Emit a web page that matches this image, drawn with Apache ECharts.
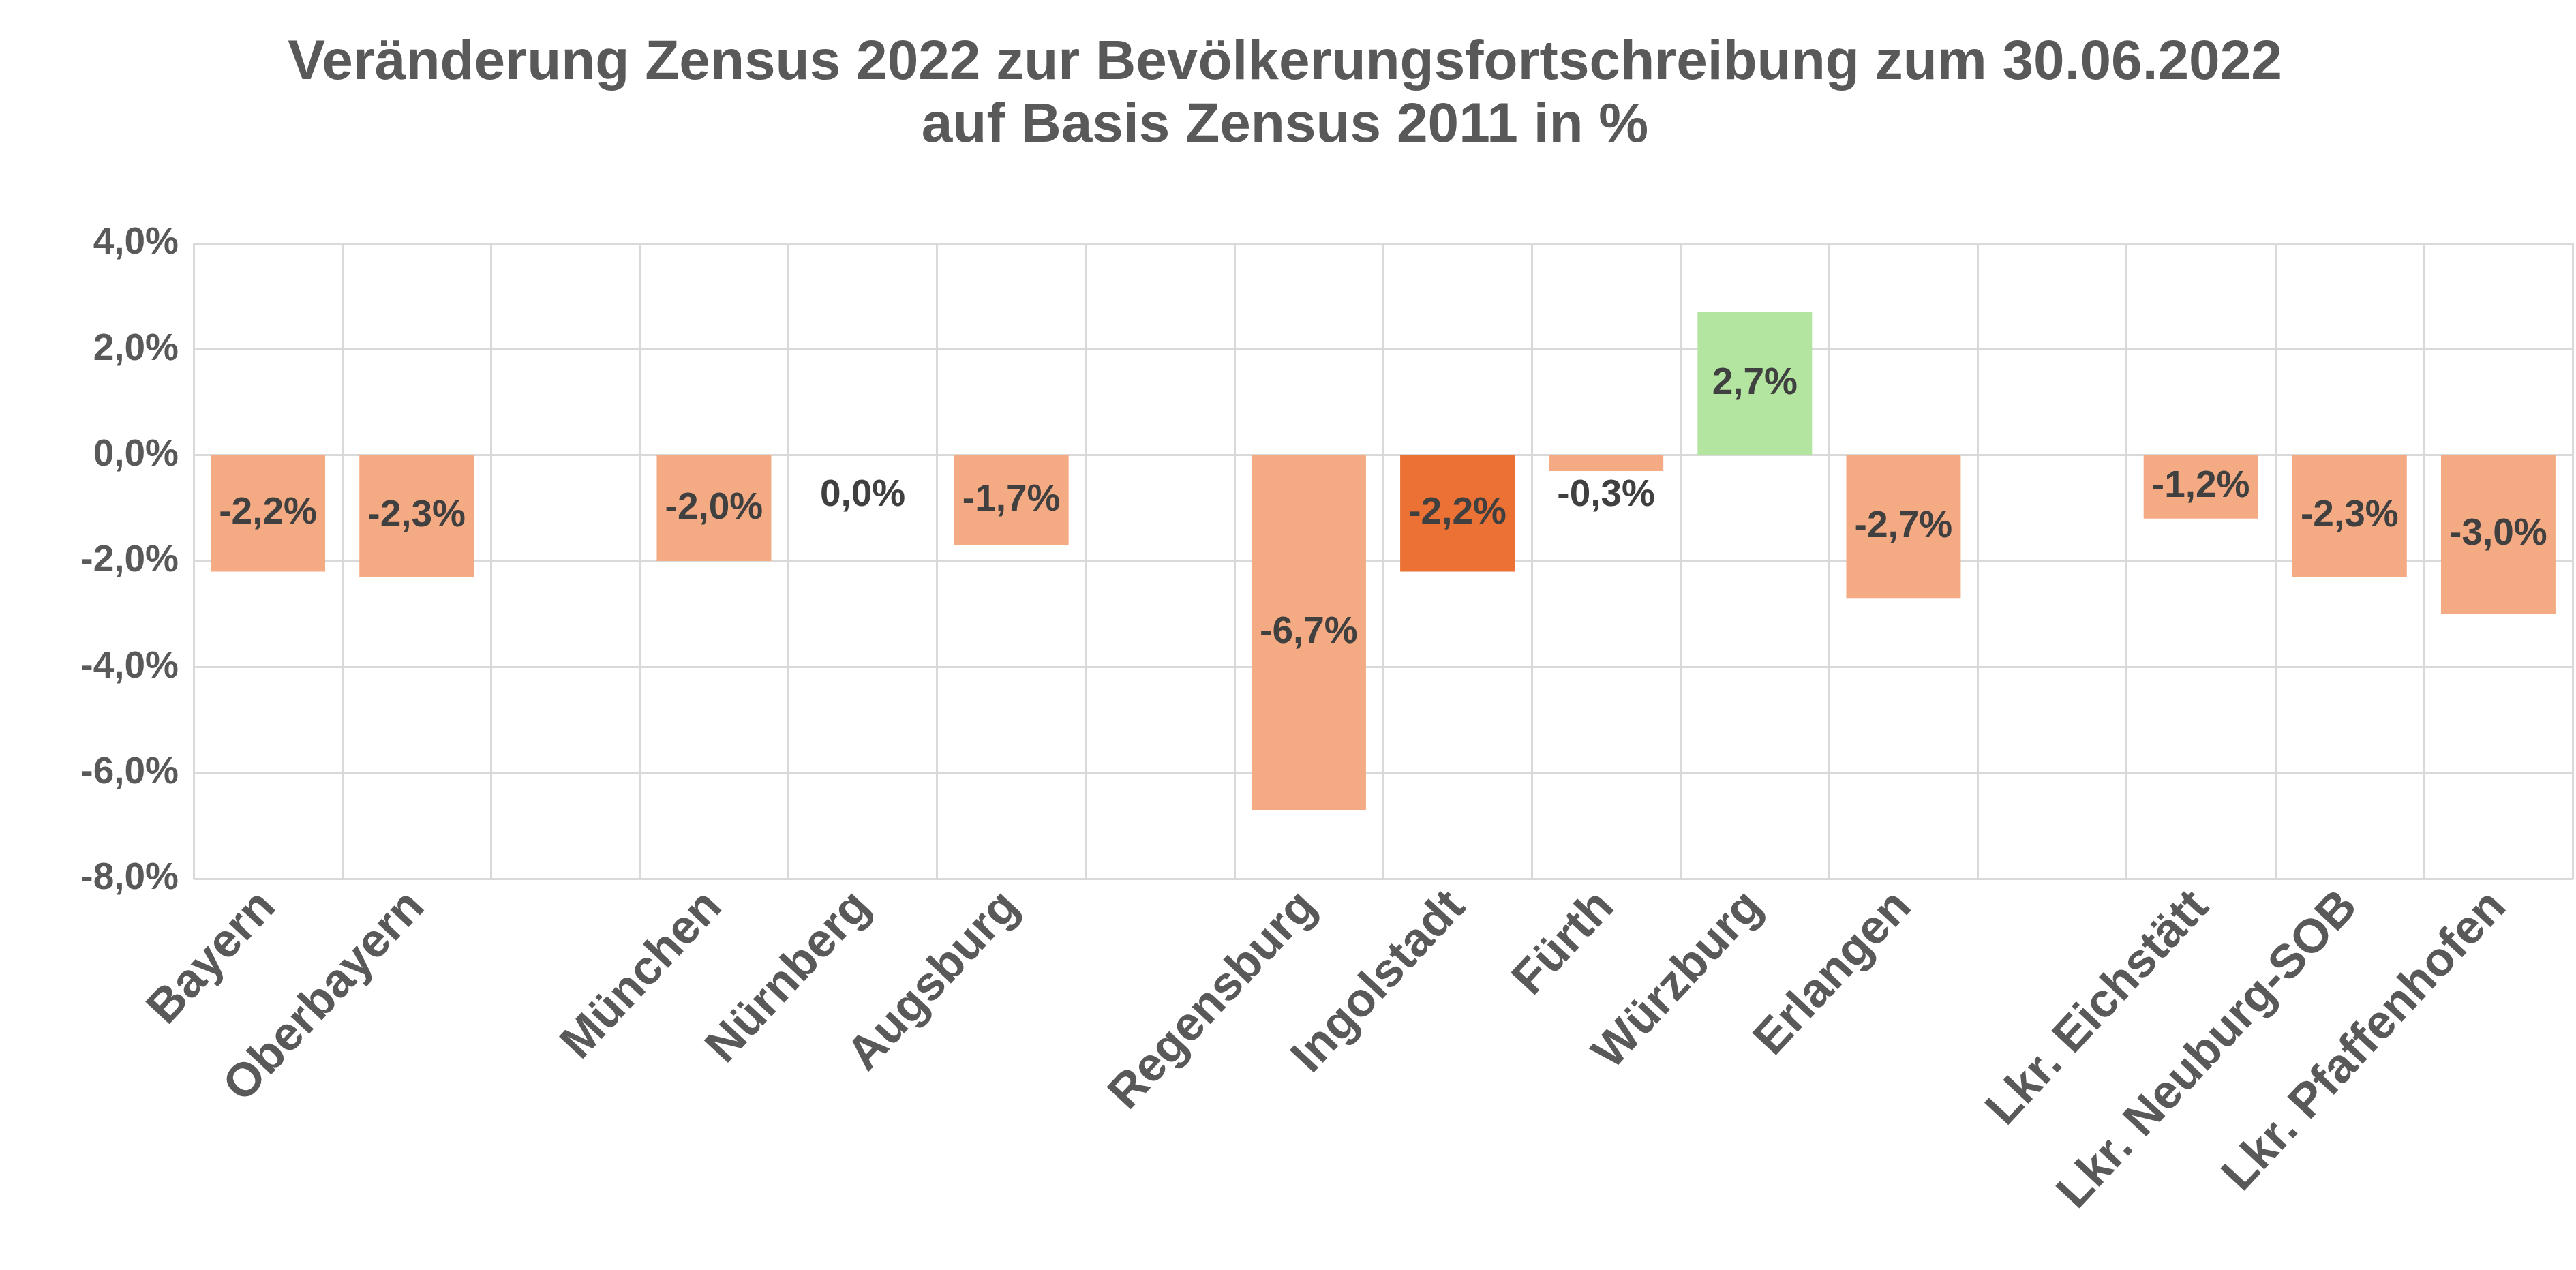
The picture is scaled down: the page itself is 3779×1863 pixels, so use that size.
<!DOCTYPE html>
<html><head><meta charset="utf-8">
<script src="https://cdn.jsdelivr.net/npm/echarts@6/dist/echarts.min.js"></script>
<style>html,body{margin:0;background:#fff}#c{width:3779px;height:1863px}</style>
</head><body><div id="c"></div>
<script>
const categories = ["Bayern","Oberbayern","","München","Nürnberg","Augsburg","","Regensburg","Ingolstadt","Fürth","Würzburg","Erlangen","","Lkr. Eichstätt","Lkr. Neuburg-SOB","Lkr. Pfaffenhofen"];
const values = [-2.2,-2.3,null,-2.0,0.0,-1.7,null,-6.7,-2.2,-0.3,2.7,-2.7,null,-1.2,-2.3,-3.0];
const colors = ["#F4AB83","#F4AB83",null,"#F4AB83","#F4AB83","#F4AB83",null,"#F4AB83","#EB7234","#F4AB83","#B3E5A1","#F4AB83",null,"#F4AB83","#F4AB83","#F4AB83"];
const yTicks = [-8,-6,-4,-2,0,2,4];
const fmt = v => v.toFixed(1).replace('.', ',') + '%';
const data = values.map((v,i) => {
  if (v === null) return null;
  const item = {value: v, itemStyle: {color: colors[i]}};
  if (Math.abs(v) < 1) item.label = {position: 'bottom', distance: v === 0 ? 32 : 8};
  return item;
});
const chart = echarts.init(document.getElementById('c'));
chart.setOption({
  animation: false,
  title: {
    text: 'Veränderung Zensus 2022 zur Bevölkerungsfortschreibung zum 30.06.2022\nauf Basis Zensus 2011 in %',
    left: 1880, top: 42, textAlign: 'center',
    textStyle: {fontFamily: 'Liberation Sans, Arial', fontSize: 82, fontWeight: 'bold', color: '#595959', lineHeight: 92}
  },
  grid: {left: 284, right: 5, top: 357, bottom: 574},
  xAxis: {
    type: 'category', data: categories,
    axisLine: {show: false}, axisTick: {show: false},
    splitLine: {show: true, interval: 0, lineStyle: {color: '#D9D9D9', width: 3}},
    axisLabel: {interval: 0, rotate: 47, margin: 30, fontFamily: 'Liberation Sans, Arial', fontSize: 70, fontWeight: 'bold', color: '#595959'}
  },
  yAxis: {
    type: 'value', min: -8, max: 4, interval: 2,
    axisLine: {show: false}, axisTick: {show: false},
    splitLine: {lineStyle: {color: '#D9D9D9', width: 3}},
    axisLabel: {formatter: v => yTicks.includes(v) ? fmt(v) : '', margin: 22, fontFamily: 'Liberation Sans, Arial', fontSize: 55, fontWeight: 'bold', color: '#595959'}
  },
  series: [{
    type: 'bar', data: data, barWidth: '77%',
    label: {show: true, position: 'inside', formatter: p => fmt(p.value), fontFamily: 'Liberation Sans, Arial', fontSize: 55, fontWeight: 'bold', color: '#404040'}
  }]
});
</script></body></html>
